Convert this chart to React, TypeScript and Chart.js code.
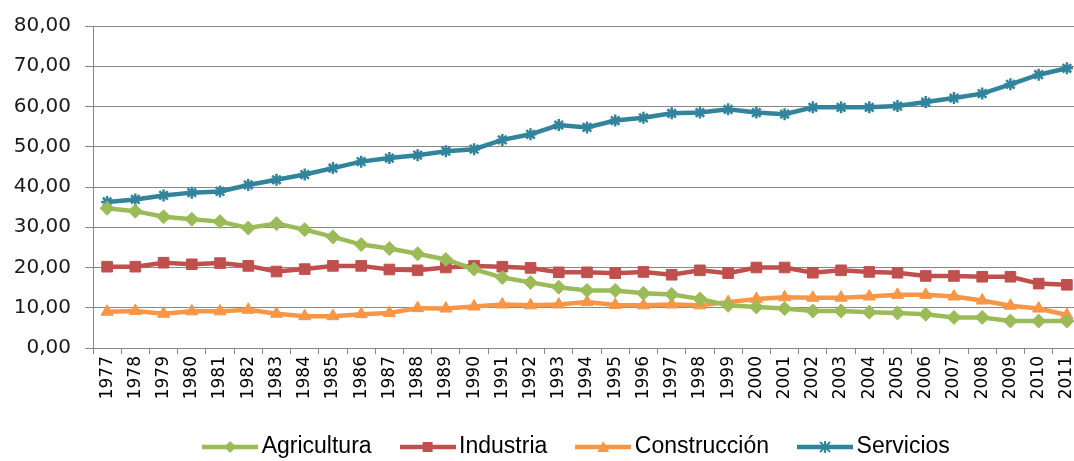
import React, { useEffect, useRef } from 'react';
import { Chart, registerables } from 'chart.js';

Chart.register(...registerables);

const years = [
  '1977', '1978', '1979', '1980', '1981', '1982', '1983', '1984', '1985', '1986', '1987', '1988',
  '1989', '1990', '1991', '1992', '1993', '1994', '1995', '1996', '1997', '1998', '1999',
  '2000', '2001', '2002', '2003', '2004', '2005', '2006', '2007', '2008', '2009', '2010', '2011',
];

const agricultura = [
  34.7, 34.0, 32.6, 32.0, 31.4, 29.8, 30.9, 29.4, 27.6, 25.7, 24.7, 23.4,
  22.0, 19.6, 17.5, 16.3, 15.1, 14.3, 14.3, 13.6, 13.3, 12.2, 10.6,
  10.2, 9.8, 9.2, 9.2, 8.9, 8.7, 8.4, 7.6, 7.6, 6.7, 6.7, 6.7,
];

const industria = [
  20.2, 20.2, 21.2, 20.8, 21.1, 20.4, 19.0, 19.6, 20.4, 20.4, 19.5, 19.3,
  20.0, 20.4, 20.2, 19.9, 18.8, 18.8, 18.6, 18.9, 18.2, 19.3, 18.6,
  20.0, 20.0, 18.7, 19.3, 18.9, 18.7, 17.9, 17.9, 17.7, 17.7, 16.0, 15.7,
];

const construccion = [
  9.0, 9.2, 8.5, 9.1, 9.1, 9.5, 8.5, 7.9, 7.9, 8.4, 8.7, 9.9,
  9.8, 10.3, 10.8, 10.6, 10.8, 11.4, 10.7, 10.6, 10.8, 10.6, 11.4,
  12.2, 12.6, 12.5, 12.5, 12.8, 13.2, 13.2, 12.8, 11.8, 10.5, 9.8, 8.2,
];

const servicios = [
  36.3, 36.9, 37.9, 38.6, 38.9, 40.5, 41.8, 43.1, 44.7, 46.3, 47.2, 47.9,
  48.9, 49.4, 51.7, 53.1, 55.4, 54.8, 56.5, 57.2, 58.3, 58.5, 59.3,
  58.5, 58.1, 59.8, 59.8, 59.8, 60.1, 61.1, 62.1, 63.2, 65.5, 67.9, 69.5,
];

const seriesNames = ['Agricultura', 'Industria', 'Construcción', 'Servicios'];
const seriesColors = ['#9BBB59', '#C0504D', '#F79646', '#31849B'];
const seriesMarkers = ['rectRot', 'rect', 'triangle', 'star'];

const GRID = '#888888';
const CANVAS_W = 1090;
const CANVAS_H = 461;
const LEGEND_CENTER_X = 580;
const LEGEND_CENTER_Y = 447;
const LEGEND_FONT = 23;
const LEGEND_PAD = 36;

function legendIcon(color: string, marker: string): HTMLCanvasElement {
  const c = document.createElement('canvas');
  c.width = 56;
  c.height = 16;
  const ctx = c.getContext('2d')!;
  const cy = 8;
  const cx = 28;
  ctx.strokeStyle = color;
  ctx.fillStyle = color;
  ctx.lineWidth = 4.5;
  ctx.beginPath();
  ctx.moveTo(0, cy);
  ctx.lineTo(56, cy);
  ctx.stroke();
  ctx.lineWidth = 2;
  ctx.beginPath();
  if (marker === 'rectRot') {
    ctx.moveTo(cx, cy - 6);
    ctx.lineTo(cx + 6, cy);
    ctx.lineTo(cx, cy + 6);
    ctx.lineTo(cx - 6, cy);
    ctx.closePath();
    ctx.fill();
  } else if (marker === 'rect') {
    ctx.rect(cx - 5, cy - 5, 10, 10);
    ctx.fill();
  } else if (marker === 'triangle') {
    ctx.moveTo(cx, cy - 6);
    ctx.lineTo(cx + 6, cy + 5);
    ctx.lineTo(cx - 6, cy + 5);
    ctx.closePath();
    ctx.fill();
  } else {
    ctx.moveTo(cx - 5, cy - 5);
    ctx.lineTo(cx + 5, cy + 5);
    ctx.moveTo(cx + 5, cy - 5);
    ctx.lineTo(cx - 5, cy + 5);
    ctx.moveTo(cx, cy - 6);
    ctx.lineTo(cx, cy + 6);
    ctx.stroke();
  }
  return c;
}

const legendShift = {
  id: 'legendShift',
  afterLayout(chart: any) {
    const lg = chart.legend;
    if (!lg) return;
    const dx = LEGEND_CENTER_X - (lg.left + lg.right) / 2;
    lg.left += dx;
    lg.right += dx;
    const newTop = LEGEND_CENTER_Y - LEGEND_PAD - LEGEND_FONT / 2;
    const dy = newTop - lg.top;
    lg.top += dy;
    lg.bottom += dy;
  },
};

export default function App() {
  const ref = useRef<HTMLCanvasElement | null>(null);

  useEffect(() => {
    if (!ref.current) return;
    const values = [agricultura, industria, construccion, servicios];
    const icons = seriesColors.map((c, i) => legendIcon(c, seriesMarkers[i]));
    const datasets = seriesNames.map((name, i) => ({
      label: name,
      data: values[i],
      borderColor: seriesColors[i],
      backgroundColor: seriesColors[i],
      borderWidth: 4.5,
      pointStyle: seriesMarkers[i] as any,
      pointRadius: i === 3 ? 6 : i === 1 ? 7.5 : 7,
      pointBorderWidth: i === 3 ? 2.5 : 1,
      pointBackgroundColor: seriesColors[i],
      pointBorderColor: seriesColors[i],
      tension: 0,
    }));

    const chart = new Chart(ref.current, {
      type: 'line',
      data: { labels: years, datasets },
      plugins: [legendShift],
      options: {
        responsive: false,
        animation: false,
        layout: { padding: { top: 21, right: 9, left: 0, bottom: 0 } },
        plugins: {
          tooltip: { enabled: false },
          legend: {
            position: 'bottom',
            maxHeight: 60,
            labels: {
              usePointStyle: true,
              pointStyleWidth: 40,
              padding: LEGEND_PAD,
              color: '#000',
              font: {
                family: "'Liberation Sans', Arial, sans-serif",
                size: LEGEND_FONT,
              },
              generateLabels: (ch: any) => {
                const base = Chart.defaults.plugins.legend.labels.generateLabels(ch);
                return base.map((l: any, i: number) => ({ ...l, pointStyle: icons[i] }));
              },
            },
          },
        },
        scales: {
          x: {
            offset: true,
            afterFit: (s: any) => {
              s.height = 53;
            },
            grid: {
              offset: true,
              drawOnChartArea: false,
              drawTicks: true,
              tickLength: 6,
              color: GRID,
            },
            border: { color: GRID, width: 1 },
            ticks: {
              autoSkip: false,
              minRotation: 90,
              maxRotation: 90,
              padding: 2,
              color: '#000',
              font: { family: "'DejaVu Sans', sans-serif", size: 17 },
            },
          },
          y: {
            min: 0,
            max: 80,
            afterFit: (s: any) => {
              s.width = 93;
            },
            grid: { color: GRID, tickLength: 8 },
            border: { color: GRID, width: 1 },
            ticks: {
              stepSize: 10,
              padding: 14,
              color: '#1a1a1a',
              font: { family: "'DejaVu Sans', sans-serif", size: 20 },
              callback: (v: any) => Number(v).toFixed(2).replace('.', ','),
            },
          },
        },
      },
    });
    return () => chart.destroy();
  }, []);

  return (
    <div
      style={{
        position: 'fixed',
        left: 0,
        top: 0,
        width: 1074,
        height: 461,
        overflow: 'hidden',
        background: '#fff',
      }}
    >
      <canvas ref={ref} width={CANVAS_W} height={CANVAS_H} style={{ display: 'block' }} />
    </div>
  );
}
